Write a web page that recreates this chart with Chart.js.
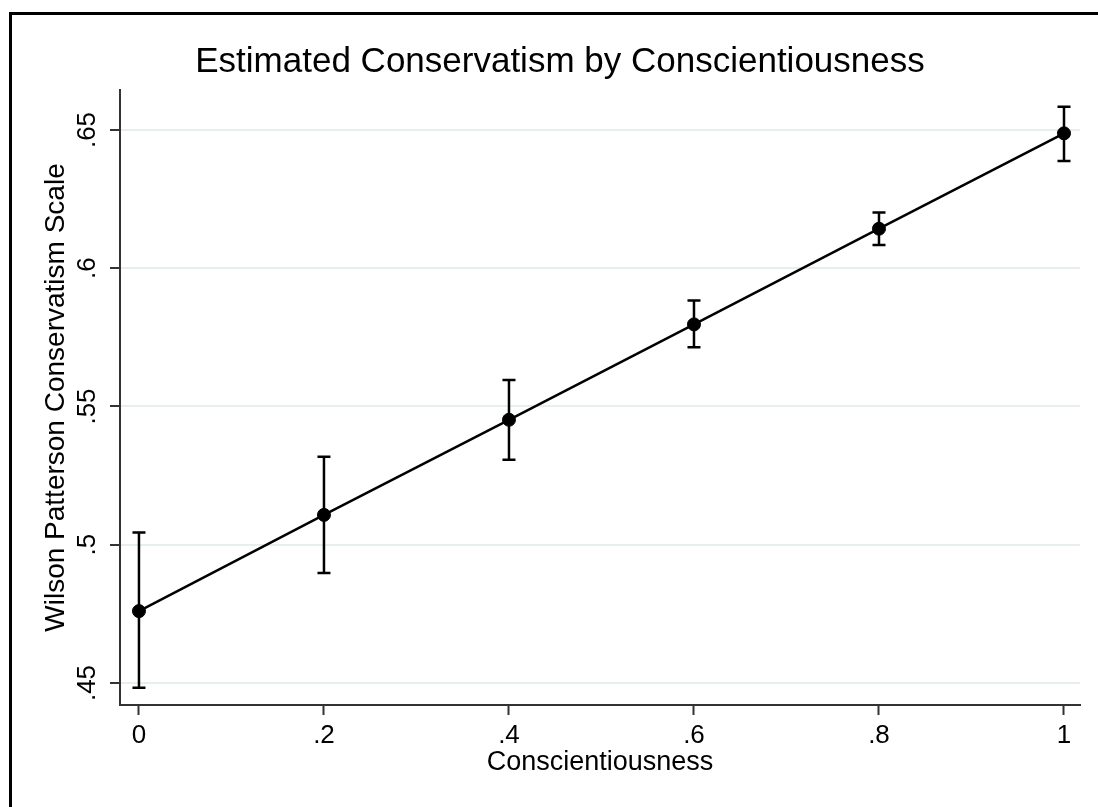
<!DOCTYPE html>
<html>
<head>
<meta charset="utf-8">
<title>Estimated Conservatism by Conscientiousness</title>
<script src="https://cdn.jsdelivr.net/npm/chart.js@4.4.1/dist/chart.umd.min.js"></script>
<style>
  html, body { margin: 0; padding: 0; background: #fff; overflow: hidden; }
  #frame { position: absolute; left: 9px; top: 12px; width: 1200px; height: 900px; border: 3px solid #000; }
  #chart { position: absolute; left: 0; top: 0; }
</style>
</head>
<body>
<div id="frame"></div>
<canvas id="chart" width="1098" height="807"></canvas>
<script>
// values
const xValues = [0, 0.2, 0.4, 0.6, 0.8, 1];
const estimates = [0.476, 0.5108, 0.5452, 0.5797, 0.6143, 0.6488];
const lowerCI = [0.4483, 0.4898, 0.5307, 0.5714, 0.6084, 0.6388];
const upperCI = [0.5044, 0.5318, 0.5596, 0.5883, 0.6202, 0.6584];

const xTicks = [0, 0.2, 0.4, 0.6, 0.8, 1];
const xTickLabels = ['0', '.2', '.4', '.6', '.8', '1'];
const yTicks = [0.45, 0.5, 0.55, 0.6, 0.65];
const yTickLabels = ['.45', '.5', '.55', '.6', '.65'];

const FONT = '"Liberation Sans", Arial, sans-serif';
const AXIS = '#333';
const GRID = '#e6eef0';

/* error bars with caps, drawn on top of the line */
const errorBars = {
  id: 'errorBars',
  afterDatasetsDraw(chart) {
    const { ctx, scales: { x, y } } = chart;
    ctx.save();
    ctx.strokeStyle = '#000';
    ctx.lineWidth = 2.5;
    xValues.forEach((v, i) => {
      const px = x.getPixelForValue(v);
      const lo = y.getPixelForValue(lowerCI[i]);
      const hi = y.getPixelForValue(upperCI[i]);
      ctx.beginPath();
      ctx.moveTo(px, lo);
      ctx.lineTo(px, hi);
      ctx.moveTo(px - 6.5, lo);
      ctx.lineTo(px + 6.5, lo);
      ctx.moveTo(px - 6.5, hi);
      ctx.lineTo(px + 6.5, hi);
      ctx.stroke();
    });
    ctx.restore();
  }
};

new Chart(document.getElementById('chart'), {
  type: 'line',
  data: {
    datasets: [{
      data: xValues.map((v, i) => ({ x: v, y: estimates[i] })),
      borderColor: '#000',
      borderWidth: 2.5,
      backgroundColor: '#000',
      pointRadius: 6.5,
      pointBorderWidth: 1,
      pointBackgroundColor: '#000',
      pointBorderColor: '#000',
      tension: 0
    }]
  },
  plugins: [errorBars],
  options: {
    responsive: false,
    animation: false,
    devicePixelRatio: 1,
    layout: { padding: { left: 40, right: 18, top: 0, bottom: 0 } },
    plugins: {
      legend: { display: false },
      tooltip: { enabled: false },
      title: {
        display: true,
        text: 'Estimated Conservatism by Conscientiousness',
        color: '#000',
        font: { family: FONT, size: 35, weight: 'normal', lineHeight: 1.2 },
        padding: { top: 41, bottom: 7 }
      }
    },
    scales: {
      x: {
        type: 'linear',
        min: -0.0205,
        max: 1.0173,
        afterBuildTicks: s => { s.ticks = xTicks.map(v => ({ value: v })); },
        afterFit: s => { s.height = 102; },
        border: { display: true, color: AXIS, width: 2 },
        grid: { drawOnChartArea: false, drawTicks: true, tickLength: 10, tickColor: AXIS, tickWidth: 2 },
        ticks: {
          autoSkip: false,
          maxRotation: 0,
          padding: 8,
          color: '#000',
          font: { family: FONT, size: 26, lineHeight: 1 },
          callback: (v, i) => xTickLabels[i]
        },
        title: {
          display: true,
          text: 'Conscientiousness',
          color: '#000',
          font: { family: FONT, size: 27, lineHeight: 1 },
          padding: { top: 0, bottom: 30.5 }
        }
      },
      y: {
        type: 'linear',
        min: 0.44204,
        max: 0.66447,
        afterBuildTicks: s => { s.ticks = yTicks.map(v => ({ value: v })); },
        afterFit: s => { s.width = 80; },
        border: { display: true, color: AXIS, width: 2 },
        grid: { color: GRID, lineWidth: 2, drawTicks: true, tickLength: 10, tickColor: AXIS, tickWidth: 2 },
        ticks: {
          autoSkip: false,
          minRotation: 90,
          maxRotation: 90,
          crossAlign: 'center',
          padding: 4,
          color: '#000',
          font: { family: FONT, size: 26, lineHeight: 1 },
          callback: (v, i) => yTickLabels[i]
        },
        title: {
          display: true,
          text: 'Wilson Patterson Conservatism Scale',
          color: '#000',
          font: { family: FONT, size: 28, lineHeight: 1 },
          padding: { top: 2, bottom: 0 }
        }
      }
    }
  }
});
</script>
</body>
</html>
